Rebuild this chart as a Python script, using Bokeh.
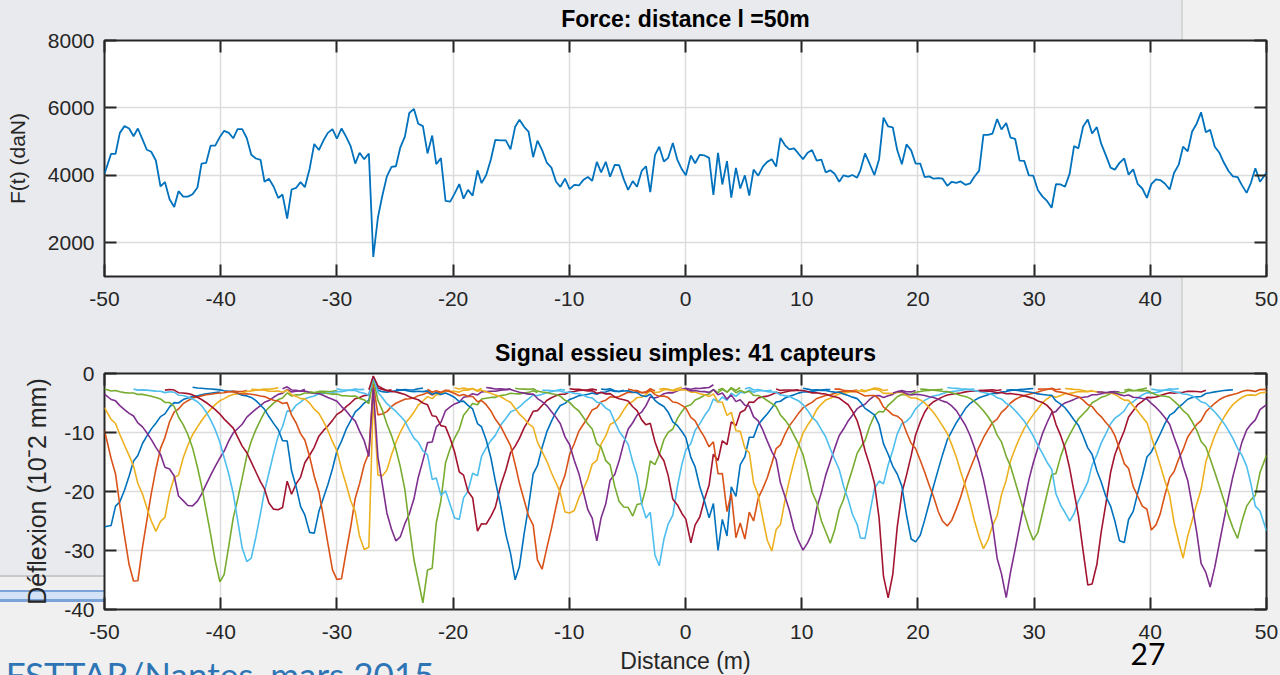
import numpy as np
from bokeh.plotting import figure
from bokeh.models import Range1d, LinearAxis, FixedTicker, ColumnDataSource, Div
from bokeh.layouts import column
from bokeh.embed import file_html
from bokeh.resources import INLINE

# ---------------- texts ----------------
title_top = "Force: distance l =50m"
title_bottom = "Signal essieu simples: 41 capteurs"
ylabel_top = "F(t) (daN)"
ylabel_bottom = "Déflexion (10ˉ2 mm)"
xlabel_bottom = "Distance (m)"
page_number = "27"
footer_text = "IFSTTAR/Nantes, mars 2015"

# ---------------- ticks ----------------
x_ticks = [-50, -40, -30, -20, -10, 0, 10, 20, 30, 40, 50]
x_tick_labels = ["-50", "-40", "-30", "-20", "-10", "0", "10", "20", "30", "40", "50"]
force_ticks = [2000, 4000, 6000, 8000]
force_tick_labels = ["2000", "4000", "6000", "8000"]
defl_ticks = [-40, -30, -20, -10, 0]
defl_tick_labels = ["-40", "-30", "-20", "-10", "0"]

# ---------------- force signal ----------------
force_pos = [
    -50.0, -49.43, -49.05, -48.68, -48.28, -47.88, -47.5, -47.13, -46.73, -46.36,
    -45.98, -45.58, -45.18, -44.8, -44.4, -44.0, -43.63, -43.23, -42.83, -42.42,
    -42.0, -41.65, -41.25, -40.87, -40.47, -40.07, -39.7, -39.3, -38.92, -38.55,
    -38.15, -37.75, -37.37, -36.97, -36.57, -36.23, -35.85, -35.45, -35.05, -34.68,
    -34.28, -33.9, -33.5, -33.13, -32.76, -32.35, -31.95, -31.55, -31.15, -30.78,
    -30.38, -30.0, -29.6, -29.2, -28.82, -28.42, -28.05, -27.65, -27.25, -26.87,
    -26.47, -26.1, -25.7, -25.3, -24.92, -24.55, -24.15, -23.77, -23.37, -23.0,
    -22.6, -22.2, -21.8, -21.45, -21.05, -20.65, -20.25, -19.87, -19.47, -19.1,
    -18.72, -18.32, -17.9, -17.55, -17.15, -16.75, -16.37, -15.9, -15.46, -15.06,
    -14.66, -14.29, -13.89, -13.51, -13.11, -12.74, -12.34, -11.94, -11.54, -11.14,
    -10.77, -10.37, -9.97, -9.57, -9.17, -8.8, -8.4, -8.03, -7.63, -7.26,
    -6.86, -6.49, -6.09, -5.71, -5.31, -4.94, -4.54, -4.17, -3.77, -3.4,
    -3.03, -2.63, -2.26, -1.86, -1.49, -1.09, -0.69, -0.31, 0.03, 0.46,
    0.83, 1.23, 1.63, 2.03, 2.4, 2.8, 3.17, 3.57, 3.94, 4.34,
    4.71, 5.11, 5.49, 5.86, 6.26, 6.66, 7.03, 7.43, 7.8, 8.17,
    8.57, 8.94, 9.34, 9.71, 10.11, 10.51, 10.89, 11.29, 11.69, 12.06,
    12.46, 12.83, 13.23, 13.6, 14.0, 14.37, 14.77, 15.05, 15.45, 15.86,
    16.26, 16.66, 17.04, 17.44, 17.84, 18.22, 18.62, 19.02, 19.42, 19.8,
    20.2, 20.58, 20.98, 21.35, 21.76, 22.13, 22.53, 22.91, 23.31, 23.68,
    24.09, 24.49, 24.86, 25.27, 25.64, 26.04, 26.42, 26.82, 27.19, 27.6,
    27.97, 28.37, 28.75, 29.15, 29.55, 29.93, 30.33, 30.73, 31.11, 31.51,
    31.88, 32.29, 32.66, 33.06, 33.44, 33.81, 34.22, 34.62, 34.99, 35.4,
    35.77, 36.17, 36.58, 36.95, 37.35, 37.76, 38.13, 38.53, 38.91, 39.31,
    39.71, 40.09, 40.49, 40.86, 41.27, 41.67, 42.04, 42.45, 42.82, 43.22,
    43.6, 44.0, 44.37, 44.78, 45.15, 45.55, 45.93, 46.33, 46.73, 47.11,
    47.51, 47.88, 48.29, 48.66, 49.04, 49.44, 50.0,
]
force_daN = [
    4050, 4640, 4640, 5260, 5460, 5390, 5160, 5390, 5070, 4760,
    4700, 4440, 3670, 3800, 3290, 3060, 3530, 3370, 3370, 3440,
    3640, 4350, 4370, 4880, 4880, 5140, 5320, 5260, 5100, 5370,
    5370, 5100, 4610, 4500, 4460, 3810, 3900, 3670, 3330, 3430,
    2720, 3580, 3630, 3800, 3650, 4190, 4930, 4750, 5040, 5260,
    5370, 5090, 5390, 5140, 4870, 4350, 4670, 4480, 4650, 1580,
    2750, 3380, 3970, 4250, 4270, 4820, 5150, 5850, 5970, 5530,
    5460, 4650, 5180, 4330, 4510, 3240, 3220, 3460, 3740, 3310,
    3570, 3400, 4150, 3770, 4010, 4470, 5050, 5040, 5040, 4770,
    5440, 5650, 5440, 5300, 4540, 5030, 4750, 4380, 4230, 3810,
    3660, 3900, 3590, 3720, 3700, 3860, 3950, 3840, 4400, 4090,
    4400, 3960, 4310, 4300, 3880, 3570, 3830, 3660, 4130, 4270,
    3500, 4600, 4850, 4410, 4520, 4960, 4450, 4180, 4000, 4590,
    4360, 4610, 4590, 4520, 3420, 4670, 3730, 4420, 3340, 4220,
    3610, 4000, 3400, 4170, 3990, 4260, 4400, 4480, 4260, 5110,
    4890, 4770, 4800, 4650, 4480, 4670, 4750, 4440, 4470, 4090,
    4150, 4050, 3810, 4000, 3960, 4010, 3930, 4150, 4650, 4330,
    4010, 4480, 5710, 5450, 5420, 4750, 4330, 4920, 4740, 4350,
    4350, 3950, 3970, 3900, 3920, 3900, 3690, 3810, 3780, 3820,
    3720, 3760, 3960, 4140, 5200, 5200, 5240, 5670, 5360, 5550,
    5120, 5080, 4440, 4430, 4000, 3990, 3560, 3370, 3240, 3040,
    3740, 3730, 3660, 4050, 4870, 4800, 5450, 5660, 5240, 5430,
    4940, 4600, 4230, 4170, 4370, 4500, 4020, 4180, 3750, 3610,
    3330, 3740, 3880, 3860, 3750, 3580, 4070, 4320, 4850, 4710,
    5300, 5540, 5870, 5280, 5350, 4850, 4680, 4380, 4130, 3970,
    3950, 3710, 3480, 3780, 4210, 3810, 4080,
]

# ---------------- 41 sensors ----------------
sensor_pos = [-50.0, -47.5, -45.0, -42.5, -40.0, -37.5, -35.0, -32.5, -30.0, -27.5,
              -25.0, -22.5, -20.0, -17.5, -15.0, -12.5, -10.0, -7.5, -5.0, -2.5,
              0.0, 2.5, 5.0, 7.5, 10.0, 12.5, 15.0, 17.5, 20.0, 22.5,
              25.0, 27.5, 30.0, 32.5, 35.0, 37.5, 40.0, 42.5, 45.0, 47.5, 50.0]
dip_pos = [-50.4, -47.4, -45.5, -42.6, -40.0, -37.6, -35.0, -32.2, -29.9, -27.6,
           -24.8, -22.55, -19.9, -17.4, -14.7, -12.4, -9.9, -7.7, -4.7, -2.35,
           0.4, 2.8, 5.0, 7.4, 10.1, 12.4, 15.1, 17.5, 19.9, 22.5,
           25.7, 27.6, 30.0, 33.0, 34.9, 37.5, 40.1, 42.8, 45.1, 47.5, 50.3]
dip_depth = [-27.5, -36.5, -27.0, -23.0, -36.0, -33.0, -23.3, -28.0, -36.0, -30.3,
             -29.0, -39.0, -24.5, -26.3, -35.1, -33.6, -24.0, -28.3, -24.3, -33.0,
             -28.6, -30.0, -28.0, -30.3, -30.0, -29.0, -28.3, -38.5, -29.1, -26.0,
             -30.0, -38.0, -28.6, -25.2, -37.0, -29.4, -26.6, -31.4, -36.5, -28.0, -28.0]
dip_width = [1.8, 1.0, 1.5, 2.0, 1.1, 1.1, 1.9, 1.3, 1.2, 1.3,
             1.4, 1.0, 1.8, 1.5, 1.05, 1.3, 1.6, 1.3, 1.6, 1.3,
             1.5, 1.4, 1.6, 1.2, 1.4, 1.4, 1.5, 0.9, 1.3, 1.6,
             1.4, 1.2, 1.4, 1.6, 1.0, 1.5, 1.6, 1.2, 1.2, 1.5, 1.6]
# shape of one dip: fraction of the depth vs distance from the dip
profile_offset = [0.0, 0.4, 0.8, 1.2, 1.6, 2.0, 2.4, 2.8, 3.2, 3.6, 4.0, 5.0, 6.0, 8.0, 10.0, 14.0]
profile_ratio = [1.0, 0.90, 0.76, 0.63, 0.50, 0.40, 0.32, 0.26, 0.21, 0.17, 0.145, 0.115, 0.10, 0.085, 0.078, 0.075]
sensor_half_window = 10.0
line_colors = ["#0072BD", "#D95319", "#EDB120", "#7E2F8E", "#77AC30", "#4DBEEE", "#A2142F"]

# ---------------- build the deflection curves ----------------
fx = np.array(force_pos)
F = np.array(force_daN, dtype=float)
F_med = np.array([np.median(F[max(0, i - 3):i + 4]) for i in range(len(F))])
ratio = F / F_med
load_ratio = np.where(ratio < 0.6, ratio ** 2, ratio ** 0.7)

curve_x, curve_y, curve_c = [], [], []
for k in range(len(sensor_pos)):
    sel = np.abs(fx - sensor_pos[k]) <= sensor_half_window + 1e-9
    xk = fx[sel]
    rk = np.interp(np.abs(xk - dip_pos[k]) / dip_width[k], profile_offset, profile_ratio)
    lr0 = np.interp(dip_pos[k], fx, load_ratio)
    curve_x.append(list(xk))
    curve_y.append(list(dip_depth[k] * rk * load_ratio[sel] / lr0))
    curve_c.append(line_colors[k % len(line_colors)])

# ---------------- styling helpers ----------------
AX = "#262626"
FONT = "Liberation Sans"


def style_axis(ax, ticks, labels, show):
    ax.ticker = FixedTicker(ticks=ticks)
    ax.axis_line_color = None
    ax.major_tick_line_color = AX
    ax.major_tick_line_width = 2
    ax.major_tick_in = 12
    ax.major_tick_out = 0
    ax.minor_tick_line_color = None
    if show:
        ax.major_label_overrides = {t: l for t, l in zip(ticks, labels)}
        ax.major_label_text_font = FONT
        ax.major_label_text_font_size = "21px"
        ax.major_label_text_color = AX
        ax.axis_label_text_font = FONT
        ax.axis_label_text_font_style = "normal"
        ax.axis_label_text_color = AX
    else:
        ax.major_label_text_font_size = "0px"
        ax.major_label_text_color = None
        ax.major_label_standoff = 0


def make_fig(title, y_range, height, top, bottom, yticks, ylabels, title_standoff, styles):
    p = figure(width=1280, height=height, x_range=Range1d(-50, 50), y_range=y_range,
               output_backend="svg", toolbar_location=None, title=title,
               x_axis_location=None, y_axis_location=None,
               min_border_left=104, min_border_right=14,
               min_border_top=top, min_border_bottom=bottom, styles=styles)
    p.border_fill_color = None
    p.background_fill_color = "white"
    p.outline_line_color = AX
    p.outline_line_width = 2
    p.title.text_font = FONT
    p.title.text_font_size = "23px"
    p.title.text_font_style = "bold"
    p.title.text_color = "black"
    p.title.align = "center"
    p.title.standoff = title_standoff
    ax_b = LinearAxis()
    style_axis(ax_b, x_ticks, x_tick_labels, True)
    ax_b.major_label_standoff = 15
    p.add_layout(ax_b, "below")
    ax_l = LinearAxis()
    style_axis(ax_l, yticks, ylabels, True)
    ax_l.major_label_standoff = 10
    p.add_layout(ax_l, "left")
    ax_r = LinearAxis()
    style_axis(ax_r, yticks, ylabels, False)
    p.add_layout(ax_r, "right")
    ax_t = LinearAxis()
    style_axis(ax_t, x_ticks, x_tick_labels, False)
    p.add_layout(ax_t, "above")
    p.xgrid.ticker = FixedTicker(ticks=x_ticks)
    p.ygrid.ticker = FixedTicker(ticks=yticks)
    p.grid.grid_line_color = "#dcdcdc"
    p.grid.grid_line_width = 1.5
    return p, ax_b, ax_l


# ---------------- top: force ----------------
p1, p1_x, p1_y = make_fig(title_top, Range1d(1000, 8000), 334, 45, 53,
                          force_ticks, force_tick_labels, 17, {"margin-top": "-5px"})
p1_y.axis_label = ylabel_top
p1_y.axis_label_text_font_size = "21px"
p1_y.axis_label_standoff = 16
p1.line(fx, F, line_color="#0072BD", line_width=1.8)

# ---------------- bottom: deflections ----------------
p2, p2_x, p2_y = make_fig(title_bottom, Range1d(-40, 0), 353, 44, 73,
                          defl_ticks, defl_tick_labels, 16, {})
p2_y.axis_label = ylabel_bottom
p2_y.axis_label_text_font_size = "25px"
p2_y.axis_label_standoff = 10
p2_x.axis_label = xlabel_bottom
p2_x.axis_label_text_font_size = "23px"
p2_x.axis_label_standoff = 6
src = ColumnDataSource(dict(xs=curve_x, ys=curve_y, color=curve_c))
p2.multi_line(xs="xs", ys="ys", line_color="color", line_width=1.6, source=src)

# ---------------- slide footer (institute line, page number) ----------------
footer_html = (
    '<div style="position:relative;width:1280px;height:45px;overflow:hidden;">'
    '<span style="position:absolute;left:-9px;top:27px;font-family:Lato;font-size:35px;'
    'line-height:1;color:#2E75B6;white-space:nowrap;">' + footer_text + '</span>'
    '<span style="position:absolute;left:1113px;width:60px;text-align:center;top:8px;'
    'font-family:Lato;font-size:30px;line-height:1;color:#000000;">' + page_number + '</span>'
    '</div>'
)
footer = Div(text=footer_html, width=1280, height=45, styles={"margin-top": "-52px"})

bg = ("linear-gradient(#d3e2f6,#d3e2f6) 0px 592px / 104px 7px no-repeat, "
      "linear-gradient(#7ba3d9,#7ba3d9) 0px 590px / 104px 12px no-repeat, "
      "linear-gradient(#c9c9c9,#c9c9c9) 0px 575px / 104px 2px no-repeat, "
      "linear-gradient(#d6d6d6,#d6d6d6) 1181px 0px / 2px 372px no-repeat, "
      "linear-gradient(#e9eaee,#e9eaee) 0px 0px / 1181px 577px no-repeat, #f0f0f0")
layout = column(p1, p2, footer, spacing=0, styles={"background": bg})

open("out.html", "w").write(file_html(layout, INLINE, "plot"))
